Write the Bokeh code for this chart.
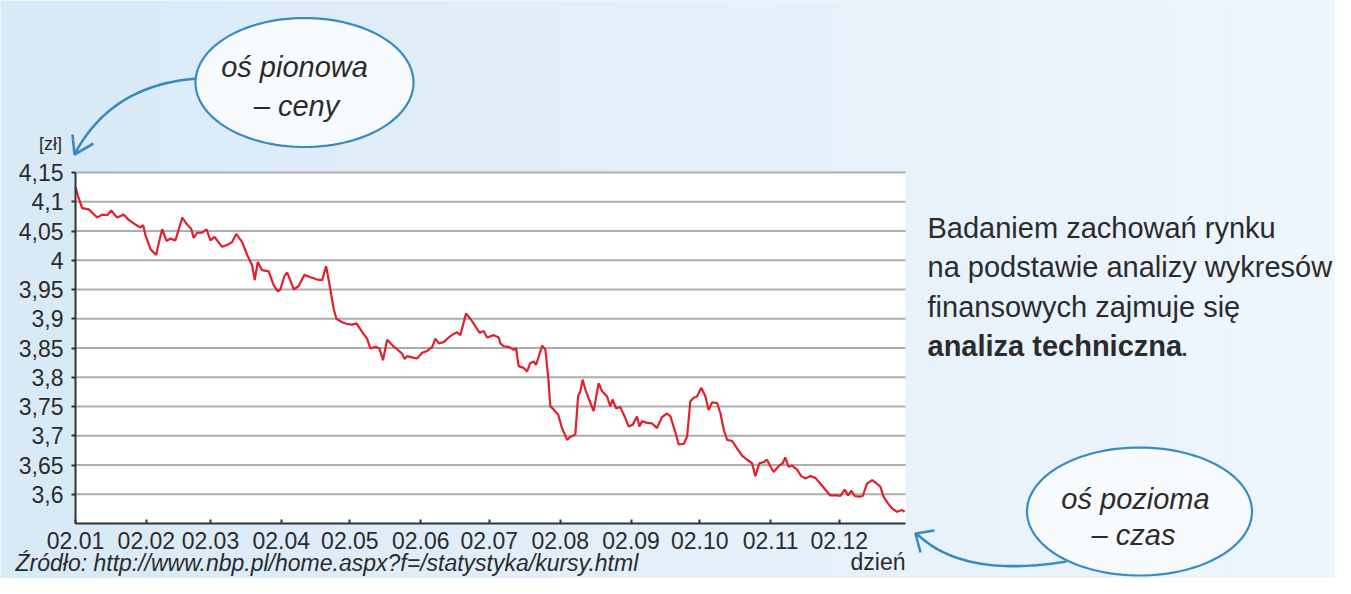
import math
from bokeh.plotting import figure
from bokeh.models import Range1d, FixedTicker, Label, PolyAnnotation, BoxAnnotation
from bokeh.embed import file_html
from bokeh.resources import INLINE

# ---------------- data ----------------
# day offset counted from 2 January, exchange rate in zł
days = [0, 1.0, 2.9, 5.8, 9.5, 11.7, 13.9, 15.6, 18.2, 21.1, 23.3, 26.2, 28.4, 29.6, 30.6,
        32.8, 35.3, 36.4, 37.9, 39.8, 41.5, 43.7, 46.7, 48.8, 50.6, 51.7, 53.2, 55.4, 57.3,
        59.0, 60.8, 64.1, 66.3, 68.5, 70.3, 72.9, 75.1, 77.3, 78.4, 79.7, 81.6, 84.5, 86.7,
        88.5, 89.6, 91.4, 92.6, 95.5, 97.6, 100.1, 102.8, 105.7, 107.9, 109.6, 110.8, 112.9,
        114.1, 116.6, 118.8, 121.0, 122.9, 125.4, 127.5, 129.0, 131.2, 132.9, 134.5, 136.3,
        138.5, 140.9, 142.9, 143.9, 145.0, 147.2, 149.4, 151.6, 153.8, 156.0, 157.4, 158.9,
        161.0, 163.2, 165.4, 166.9, 168.3, 170.8, 172.7, 174.9, 176.8, 178.5, 180.0, 182.9,
        185.1, 185.8, 187.3, 189.5, 191.7, 192.7, 193.8, 196.0, 197.5, 198.9, 200.4, 201.4,
        204.1, 205.5, 206.7, 207.7, 209.1, 211.1, 212.8, 215.0, 216.4, 218.6, 219.8, 220.8,
        221.8, 223.0, 225.2, 226.6, 228.8, 230.3, 232.5, 233.9, 234.9, 236.4, 238.3, 240.5,
        241.9, 243.7, 245.6, 246.6, 247.8, 250.0, 252.2, 254.3, 256.5, 258.7, 260.2, 262.4,
        263.8, 266.0, 267.5, 268.9, 270.4, 271.8, 273.7, 275.5, 276.9, 278.4, 280.6, 282.1,
        283.6, 285.0, 287.2, 289.4, 291.5, 293.7, 295.9, 297.3, 299.1, 301.0, 302.4, 303.5,
        305.3, 307.5, 309.3, 310.4, 311.9, 313.4, 315.6, 317.4, 319.2, 321.4, 323.6, 325.8,
        327.9, 330.1, 333.1, 334.5, 336.4, 337.9, 339.3, 340.8, 342.8, 344.3, 346.2, 348.4,
        350.5, 352.0, 353.4, 355.4, 357.1, 359.3, 361.5, 362.6]
rates = [4.125, 4.111, 4.089, 4.087, 4.073, 4.078, 4.077, 4.085, 4.073, 4.078, 4.069, 4.061,
         4.056, 4.060, 4.043, 4.019, 4.009, 4.029, 4.053, 4.033, 4.037, 4.034, 4.073, 4.061,
         4.054, 4.038, 4.047, 4.047, 4.053, 4.034, 4.040, 4.023, 4.026, 4.031, 4.045, 4.031,
         4.009, 3.991, 3.966, 3.997, 3.983, 3.981, 3.957, 3.947, 3.950, 3.973, 3.979, 3.950,
         3.956, 3.975, 3.971, 3.967, 3.966, 3.990, 3.965, 3.917, 3.900, 3.894, 3.891, 3.890,
         3.892, 3.877, 3.866, 3.849, 3.852, 3.849, 3.829, 3.864, 3.855, 3.847, 3.840, 3.831,
         3.836, 3.834, 3.832, 3.842, 3.845, 3.852, 3.866, 3.858, 3.860, 3.868, 3.874, 3.877,
         3.872, 3.909, 3.900, 3.887, 3.876, 3.879, 3.868, 3.872, 3.868, 3.858, 3.853, 3.852,
         3.847, 3.850, 3.819, 3.816, 3.810, 3.824, 3.827, 3.821, 3.854, 3.847, 3.802, 3.750,
         3.745, 3.736, 3.713, 3.693, 3.698, 3.702, 3.767, 3.776, 3.796, 3.779, 3.756, 3.742,
         3.790, 3.776, 3.767, 3.750, 3.762, 3.747, 3.749, 3.730, 3.716, 3.719, 3.733, 3.716,
         3.725, 3.722, 3.721, 3.713, 3.732, 3.738, 3.733, 3.705, 3.685, 3.686, 3.699, 3.759,
         3.765, 3.767, 3.782, 3.767, 3.744, 3.757, 3.756, 3.738, 3.709, 3.693, 3.691, 3.678,
         3.666, 3.659, 3.653, 3.631, 3.653, 3.655, 3.659, 3.651, 3.638, 3.648, 3.653, 3.663,
         3.647, 3.649, 3.642, 3.631, 3.627, 3.631, 3.628, 3.618, 3.608, 3.598, 3.598, 3.597,
         3.608, 3.598, 3.606, 3.597, 3.596, 3.597, 3.618, 3.624, 3.618, 3.613, 3.596, 3.584,
         3.576, 3.570, 3.573, 3.570]

x_tick_days = [0, 31, 59, 90, 120, 151, 181, 212, 243, 273, 304, 334]
x_tick_labels = ["02.01", "02.02", "02.03", "02.04", "02.05", "02.06",
                 "02.07", "02.08", "02.09", "02.10", "02.11", "02.12"]
y_ticks = [3.6, 3.65, 3.7, 3.75, 3.8, 3.85, 3.9, 3.95, 4.0, 4.05, 4.1, 4.15]
y_tick_labels = ["3,6", "3,65", "3,7", "3,75", "3,8", "3,85", "3,9", "3,95",
                 "4", "4,05", "4,1", "4,15"]
x_start, x_end = 0, 363
y_min, y_max = 3.55, 4.15

y_unit = "[zł]"
x_unit = "dzień"
source_text = "Źródło: http://www.nbp.pl/home.aspx?f=/statystyka/kursy.html"
note_lines = ["Badaniem zachowań rynku", "na podstawie analizy wykresów",
              "finansowych zajmuje się"]
note_bold = "analiza techniczna"
bubble_v = ["oś pionowa", "– ceny"]
bubble_h = ["oś pozioma", "– czas"]

# ---------------- layout geometry (canvas pixels) ----------------
FONT = "Liberation Sans"
TXT = "#2b2b2b"
BLUE = "#3a8bc0"
W, H = 1335, 578                      # canvas
PL, PT, PW, PH = 75, 172, 830, 351    # chart area inside the canvas
kx = PW / (x_end - x_start)           # px per day
ky = PH / (y_max - y_min)             # px per zł

xr = Range1d(x_start - PL / kx, x_end + (W - PL - PW) / kx)
yr = Range1d(y_min - (H - PT - PH) / ky, y_max + PT / ky)

p = figure(width=W, height=H, min_border=0, x_range=xr, y_range=yr,
           title_location=None, output_backend="svg", toolbar_location=None)
p.background_fill_color = "#e3f0fa"
p.border_fill_color = "#e3f0fa"
p.outline_line_color = None
p.grid.visible = False

# soft background gradient (lighter towards the right)
for i in range(24):
    x0 = xr.start + (xr.end - xr.start) * i / 24
    x1 = xr.start + (xr.end - xr.start) * (i + 1) / 24
    t = i / 23
    r = int(0xd9 + (0xee - 0xd9) * t)
    g = int(0xea + (0xf6 - 0xea) * t)
    b = int(0xf7 + (0xfd - 0xf7) * t)
    p.add_layout(BoxAnnotation(left=x0, right=x1, bottom=yr.start, top=yr.end,
                               fill_color="#%02x%02x%02x" % (r, g, b), fill_alpha=1,
                               line_alpha=0, level="underlay"))

# white plotting area
p.add_layout(BoxAnnotation(left=x_start, right=x_end, bottom=y_min, top=y_max,
                           fill_color="white", fill_alpha=1, line_alpha=0, level="underlay"))

# horizontal grid lines at the y ticks
p.segment(x0=[x_start] * len(y_ticks), x1=[x_end] * len(y_ticks), y0=y_ticks, y1=y_ticks,
          line_color="#adadad", line_width=1.8)

p.line(days, rates, line_color="#e0202b", line_width=2.2)

p.xaxis.fixed_location = y_min
p.yaxis.fixed_location = x_start
p.xaxis.bounds = (x_start, x_end)
p.yaxis.bounds = (y_min, y_max)
p.xaxis.ticker = FixedTicker(ticks=x_tick_days)
p.xaxis.major_label_overrides = dict(zip(x_tick_days, x_tick_labels))
p.yaxis.ticker = FixedTicker(ticks=y_ticks)
p.yaxis.major_label_overrides = dict(zip(y_ticks, y_tick_labels))
for ax in (p.xaxis[0], p.yaxis[0]):
    ax.axis_line_color = "#333333"
    ax.axis_line_width = 2
    ax.major_tick_line_color = "#333333"
    ax.major_tick_line_width = 2
    ax.minor_tick_line_color = None
    ax.major_label_text_font = FONT
    ax.major_label_text_font_size = "23px"
    ax.major_label_text_color = TXT
p.xaxis.major_tick_in = 4
p.xaxis.major_tick_out = 0
p.xaxis.major_label_standoff = 8
p.yaxis.major_tick_in = 0
p.yaxis.major_tick_out = 4
p.yaxis.major_label_standoff = 8

# ---------------- helpers: canvas pixel -> data coordinates ----------------
def dx(px):
    return x_start + (px - PL) / kx

def dy(py):
    return y_max - (py - PT) / ky

def label(px, py, text, size, style="normal", align="left", baseline="middle", color=TXT):
    p.add_layout(Label(x=dx(px), y=dy(py), text=text, text_font=FONT,
                       text_font_size=size, text_font_style=style, text_align=align,
                       text_baseline=baseline, text_color=color))

def poly(pts, **kw):
    p.add_layout(PolyAnnotation(xs=[dx(a) for a, b in pts], ys=[dy(b) for a, b in pts], **kw))

def ellipse(cx, cy, w, h):
    n = 120
    pts = [(cx + w / 2 * math.cos(2 * math.pi * i / n), cy + h / 2 * math.sin(2 * math.pi * i / n))
           for i in range(n)]
    poly(pts, fill_color="#f8fbfe", fill_alpha=1, line_color=BLUE, line_alpha=1, line_width=2.2)

def open_path(pts):
    poly(pts + pts[::-1], fill_alpha=0, line_color=BLUE, line_alpha=1, line_width=2.6)

def curve(p0, c, p2):
    pts = []
    for i in range(41):
        t = i / 40
        x = (1 - t) ** 2 * p0[0] + 2 * (1 - t) * t * c[0] + t ** 2 * p2[0]
        y = (1 - t) ** 2 * p0[1] + 2 * (1 - t) * t * c[1] + t ** 2 * p2[1]
        pts.append((x, y))
    open_path(pts)

# ---------------- texts around the chart ----------------
label(50, 143, y_unit, "18px", align="center")
label(905, 561, x_unit, "23px", align="right")
label(15, 562, source_text, "23px", style="italic")

for i, line in enumerate(note_lines):
    label(927, 227 + i * 39.5, line, "29px", baseline="alphabetic")
label(927, 227 + 3 * 39.5, note_bold, "29px", style="bold", baseline="alphabetic")
label(1180, 227 + 3 * 39.5, ".", "29px", baseline="alphabetic")

# bubble: vertical axis
curve((197, 78), (112, 84), (75, 152))
open_path([(72, 134), (74, 154), (93, 143)])
ellipse(304, 82, 218, 129)
label(294, 66, bubble_v[0], "29px", style="italic", align="center")
label(296, 105, bubble_v[1], "29px", style="italic", align="center")

# bubble: horizontal axis
curve((1066, 561), (962, 578), (916, 533))
open_path([(934, 530), (915, 533), (920, 552)])
ellipse(1139, 511, 225, 128)
label(1135, 498, bubble_h[0], "29px", style="italic", align="center")
label(1133, 534, bubble_h[1], "29px", style="italic", align="center")

open("out.html", "w").write(file_html(p, INLINE))
